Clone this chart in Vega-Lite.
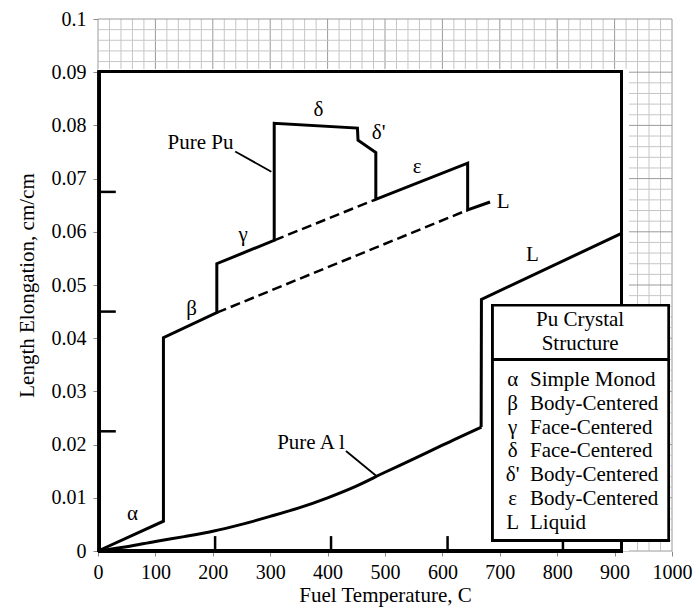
{
  "$schema": "https://vega.github.io/schema/vega-lite/v6.json",
  "width": 574,
  "height": 532,
  "autosize": {"type": "none"},
  "padding": {"left": 98, "top": 19, "right": 24, "bottom": 64},
  "background": "white",
  "config": {
    "view": {"stroke": null},
    "font": "Liberation Serif",
    "axis": {
      "labelFont": "Liberation Serif",
      "labelColor": "black",
      "titleFont": "Liberation Serif",
      "titleFontSize": 21,
      "titleFontWeight": "normal",
      "titleColor": "black",
      "domain": false,
      "grid": false,
      "tickColor": "#8a8a8a",
      "tickSize": 5
    }
  },
  "datasets": {
    "vgrid": [
      {"gx": 0}, {"gx": 20}, {"gx": 40}, {"gx": 60}, {"gx": 80}, {"gx": 100}, {"gx": 120}, {"gx": 140}, {"gx": 160}, {"gx": 180},
      {"gx": 200}, {"gx": 220}, {"gx": 240}, {"gx": 260}, {"gx": 280}, {"gx": 300}, {"gx": 320}, {"gx": 340}, {"gx": 360}, {"gx": 380},
      {"gx": 400}, {"gx": 420}, {"gx": 440}, {"gx": 460}, {"gx": 480}, {"gx": 500}, {"gx": 520}, {"gx": 540}, {"gx": 560}, {"gx": 580},
      {"gx": 600}, {"gx": 620}, {"gx": 640}, {"gx": 660}, {"gx": 680}, {"gx": 700}, {"gx": 720}, {"gx": 740}, {"gx": 760}, {"gx": 780},
      {"gx": 800}, {"gx": 820}, {"gx": 840}, {"gx": 860}, {"gx": 880}, {"gx": 900}, {"gx": 920}, {"gx": 940}, {"gx": 960}, {"gx": 980},
      {"gx": 1000}
    ],
    "hgrid": [
      {"gy": 0}, {"gy": 0.002}, {"gy": 0.004}, {"gy": 0.006}, {"gy": 0.008}, {"gy": 0.01}, {"gy": 0.012}, {"gy": 0.014}, {"gy": 0.016}, {"gy": 0.018},
      {"gy": 0.02}, {"gy": 0.022}, {"gy": 0.024}, {"gy": 0.026}, {"gy": 0.028}, {"gy": 0.03}, {"gy": 0.032}, {"gy": 0.034}, {"gy": 0.036}, {"gy": 0.038},
      {"gy": 0.04}, {"gy": 0.042}, {"gy": 0.044}, {"gy": 0.046}, {"gy": 0.048}, {"gy": 0.05}, {"gy": 0.052}, {"gy": 0.054}, {"gy": 0.056}, {"gy": 0.058},
      {"gy": 0.06}, {"gy": 0.062}, {"gy": 0.064}, {"gy": 0.066}, {"gy": 0.068}, {"gy": 0.07}, {"gy": 0.072}, {"gy": 0.074}, {"gy": 0.076}, {"gy": 0.078},
      {"gy": 0.08}, {"gy": 0.082}, {"gy": 0.084}, {"gy": 0.086}, {"gy": 0.088}, {"gy": 0.09}, {"gy": 0.092}, {"gy": 0.094}, {"gy": 0.096}, {"gy": 0.098},
      {"gy": 0.1}
    ],
    "curves": [
      {"s": "Pu", "i": 1, "x": 0, "y": 0},
      {"s": "Pu", "i": 2, "x": 114, "y": 0.0056},
      {"s": "Pu", "i": 3, "x": 114, "y": 0.0401},
      {"s": "Pu", "i": 4, "x": 207, "y": 0.0448},
      {"s": "Pu", "i": 5, "x": 207, "y": 0.054},
      {"s": "Pu", "i": 6, "x": 307, "y": 0.0584},
      {"s": "Pu", "i": 7, "x": 307, "y": 0.0804},
      {"s": "Pu", "i": 8, "x": 452, "y": 0.0795},
      {"s": "Pu", "i": 9, "x": 453, "y": 0.0772},
      {"s": "Pu", "i": 10, "x": 484, "y": 0.0749},
      {"s": "Pu", "i": 11, "x": 484, "y": 0.0661},
      {"s": "Pu", "i": 12, "x": 644, "y": 0.0729},
      {"s": "Pu", "i": 13, "x": 644, "y": 0.0641},
      {"s": "Pu", "i": 14, "x": 683, "y": 0.0656},
      {"s": "AlL", "i": 1, "x": 667.5, "y": 0.0233},
      {"s": "AlL", "i": 2, "x": 668, "y": 0.0473},
      {"s": "AlL", "i": 3, "x": 912, "y": 0.0597},
      {"s": "d1", "i": 1, "x": 307, "y": 0.0584},
      {"s": "d1", "i": 2, "x": 484, "y": 0.0661},
      {"s": "d2", "i": 1, "x": 207, "y": 0.0448},
      {"s": "d2", "i": 2, "x": 644, "y": 0.0641}
    ],
    "alcurve": [
      {"x": 0, "y": 0},
      {"x": 50, "y": 0.0008},
      {"x": 100, "y": 0.0018},
      {"x": 150, "y": 0.0027},
      {"x": 200, "y": 0.0037},
      {"x": 250, "y": 0.005},
      {"x": 300, "y": 0.0065},
      {"x": 350, "y": 0.0081},
      {"x": 400, "y": 0.01},
      {"x": 450, "y": 0.0122},
      {"x": 500, "y": 0.0148},
      {"x": 550, "y": 0.0173},
      {"x": 600, "y": 0.0199},
      {"x": 668, "y": 0.0233}
    ],
    "boxticks": [
      {"x": 204, "x2": 204, "y": 0, "y2": 0.0028},
      {"x": 406, "x2": 406, "y": 0, "y2": 0.0028},
      {"x": 609, "x2": 609, "y": 0, "y2": 0.0028},
      {"x": 810, "x2": 810, "y": 0, "y2": 0.0028},
      {"x": 2, "x2": 31, "y": 0.0225, "y2": 0.0225},
      {"x": 2, "x2": 31, "y": 0.045, "y2": 0.045},
      {"x": 2, "x2": 31, "y": 0.0675, "y2": 0.0675}
    ],
    "leaders": [
      {"x": 239, "x2": 302, "y": 0.0751, "y2": 0.0713},
      {"x": 432, "x2": 485, "y": 0.0188, "y2": 0.0141}
    ],
    "phaselabels": [
      {"x": 60, "y": 0.007, "t": "α"},
      {"x": 163, "y": 0.0454, "t": "β"},
      {"x": 253, "y": 0.0594, "t": "γ"},
      {"x": 384, "y": 0.0829, "t": "δ"},
      {"x": 489, "y": 0.0785, "t": "δ'"},
      {"x": 556, "y": 0.0722, "t": "ε"},
      {"x": 706, "y": 0.0656, "t": "L"},
      {"x": 757, "y": 0.0556, "t": "L"}
    ],
    "curvelabels": [
      {"x": 236, "y": 0.0766, "t": "Pure Pu"},
      {"x": 430, "y": 0.0203, "t": "Pure A l"}
    ],
    "legendtitle": [
      {"x": 840, "y": 0.0434, "t": "Pu Crystal"},
      {"x": 840, "y": 0.039, "t": "Structure"}
    ],
    "legend": [
      {"y": 0.0322, "sym": "α", "desc": "Simple Monod"},
      {"y": 0.0277, "sym": "β", "desc": "Body-Centered"},
      {"y": 0.0232, "sym": "γ", "desc": "Face-Centered"},
      {"y": 0.0188, "sym": "δ", "desc": "Face-Centered"},
      {"y": 0.0142, "sym": "δ'", "desc": "Body-Centered"},
      {"y": 0.0097, "sym": "ε", "desc": "Body-Centered"},
      {"y": 0.0053, "sym": "L", "desc": "Liquid"}
    ]
  },
  "layer": [
    {
      "data": {"name": "vgrid"},
      "mark": {"type": "rule", "strokeWidth": 1},
      "encoding": {
        "x": {
          "field": "gx", "type": "quantitative",
          "scale": {"domain": [0, 1000], "nice": false, "zero": false},
          "axis": {
            "title": "Fuel Temperature, C",
            "values": [0, 100, 200, 300, 400, 500, 600, 700, 800, 900, 1000],
            "format": "d",
            "labelFontSize": 20,
            "labelOverlap": false,
            "labelFlush": false,
            "labelBound": false,
            "labelPadding": 6,
            "titlePadding": 2,
            "zindex": 0
          }
        },
        "color": {"condition": {"test": "datum.gx % 100 === 0", "value": "#9a9a9a"}, "value": "#c6c6c6"}
      }
    },
    {
      "data": {"name": "hgrid"},
      "mark": {"type": "rule", "strokeWidth": 1},
      "encoding": {
        "y": {
          "field": "gy", "type": "quantitative",
          "scale": {"domain": [0, 0.1], "nice": false, "zero": false},
          "axis": {
            "title": "Length Elongation, cm/cm",
            "values": [0, 0.01, 0.02, 0.03, 0.04, 0.05, 0.06, 0.07, 0.08, 0.09, 0.1],
            "format": ".2~f",
            "labelFontSize": 20,
            "labelOverlap": false,
            "labelFlush": false,
            "labelBound": false,
            "labelPadding": 7,
            "titlePadding": 14,
            "zindex": 0
          }
        },
        "color": {"condition": {"test": "abs(datum.gy*100 - round(datum.gy*100)) < 0.001", "value": "#9a9a9a"}, "value": "#c6c6c6"}
      }
    },
    {
      "data": {"name": "curves"},
      "mark": {"type": "rect", "fill": "white", "stroke": null},
      "encoding": {
        "x": {"datum": 0, "type": "quantitative"},
        "x2": {"datum": 925},
        "y": {"datum": 0, "type": "quantitative"},
        "y2": {"datum": 0.0906}
      }
    },
    {
      "data": {"name": "curves"},
      "mark": {"type": "rect", "fill": null, "stroke": "black", "strokeWidth": 2.5},
      "encoding": {
        "x": {"datum": 2, "type": "quantitative"},
        "x2": {"datum": 912},
        "y": {"datum": 0, "type": "quantitative"},
        "y2": {"datum": 0.0901}
      }
    },
    {
      "data": {"name": "boxticks"},
      "mark": {"type": "rule", "color": "black", "strokeWidth": 2.5},
      "encoding": {
        "x": {"field": "x", "type": "quantitative"},
        "x2": {"field": "x2"},
        "y": {"field": "y", "type": "quantitative"},
        "y2": {"field": "y2"}
      }
    },
    {
      "data": {"name": "curves"},
      "transform": [{"filter": "datum.s === 'Pu' || datum.s === 'AlL'"}],
      "mark": {"type": "line", "color": "black", "strokeWidth": 3, "strokeJoin": "miter"},
      "encoding": {
        "x": {"field": "x", "type": "quantitative"},
        "y": {"field": "y", "type": "quantitative"},
        "detail": {"field": "s"},
        "order": {"field": "i", "type": "quantitative"}
      }
    },
    {
      "data": {"name": "alcurve"},
      "mark": {"type": "line", "color": "black", "strokeWidth": 3, "interpolate": "monotone"},
      "encoding": {
        "x": {"field": "x", "type": "quantitative"},
        "y": {"field": "y", "type": "quantitative"}
      }
    },
    {
      "data": {"name": "curves"},
      "transform": [{"filter": "datum.s === 'd1' || datum.s === 'd2'"}],
      "mark": {"type": "line", "color": "black", "strokeWidth": 2.5, "strokeDash": [10, 5]},
      "encoding": {
        "x": {"field": "x", "type": "quantitative"},
        "y": {"field": "y", "type": "quantitative"},
        "detail": {"field": "s"},
        "order": {"field": "i", "type": "quantitative"}
      }
    },
    {
      "data": {"name": "leaders"},
      "mark": {"type": "rule", "color": "black", "strokeWidth": 1.8},
      "encoding": {
        "x": {"field": "x", "type": "quantitative"},
        "x2": {"field": "x2"},
        "y": {"field": "y", "type": "quantitative"},
        "y2": {"field": "y2"}
      }
    },
    {
      "data": {"name": "phaselabels"},
      "mark": {"type": "text", "align": "center", "baseline": "middle", "font": "Liberation Serif", "fontSize": 21, "color": "black"},
      "encoding": {
        "x": {"field": "x", "type": "quantitative"},
        "y": {"field": "y", "type": "quantitative"},
        "text": {"field": "t"}
      }
    },
    {
      "data": {"name": "curvelabels"},
      "mark": {"type": "text", "align": "right", "baseline": "middle", "font": "Liberation Serif", "fontSize": 21, "color": "black"},
      "encoding": {
        "x": {"field": "x", "type": "quantitative"},
        "y": {"field": "y", "type": "quantitative"},
        "text": {"field": "t"}
      }
    },
    {
      "data": {"name": "curves"},
      "mark": {"type": "rect", "fill": "white", "stroke": "black", "strokeWidth": 2.5},
      "encoding": {
        "x": {"datum": 687.5, "type": "quantitative"},
        "x2": {"datum": 994},
        "y": {"datum": 0.002, "type": "quantitative"},
        "y2": {"datum": 0.0462}
      }
    },
    {
      "data": {"name": "curves"},
      "mark": {"type": "rule", "color": "black", "strokeWidth": 2},
      "encoding": {
        "x": {"datum": 687.5, "type": "quantitative"},
        "x2": {"datum": 994},
        "y": {"datum": 0.036, "type": "quantitative"}
      }
    },
    {
      "data": {"name": "legendtitle"},
      "mark": {"type": "text", "align": "center", "baseline": "middle", "font": "Liberation Serif", "fontSize": 21, "color": "black"},
      "encoding": {
        "x": {"field": "x", "type": "quantitative"},
        "y": {"field": "y", "type": "quantitative"},
        "text": {"field": "t"}
      }
    },
    {
      "data": {"name": "legend"},
      "mark": {"type": "text", "align": "center", "baseline": "middle", "font": "Liberation Serif", "fontSize": 21, "color": "black"},
      "encoding": {
        "x": {"datum": 722.5, "type": "quantitative"},
        "y": {"field": "y", "type": "quantitative"},
        "text": {"field": "sym"}
      }
    },
    {
      "data": {"name": "legend"},
      "mark": {"type": "text", "align": "left", "baseline": "middle", "font": "Liberation Serif", "fontSize": 21, "color": "black"},
      "encoding": {
        "x": {"datum": 752.6, "type": "quantitative"},
        "y": {"field": "y", "type": "quantitative"},
        "text": {"field": "desc"}
      }
    }
  ]
}
